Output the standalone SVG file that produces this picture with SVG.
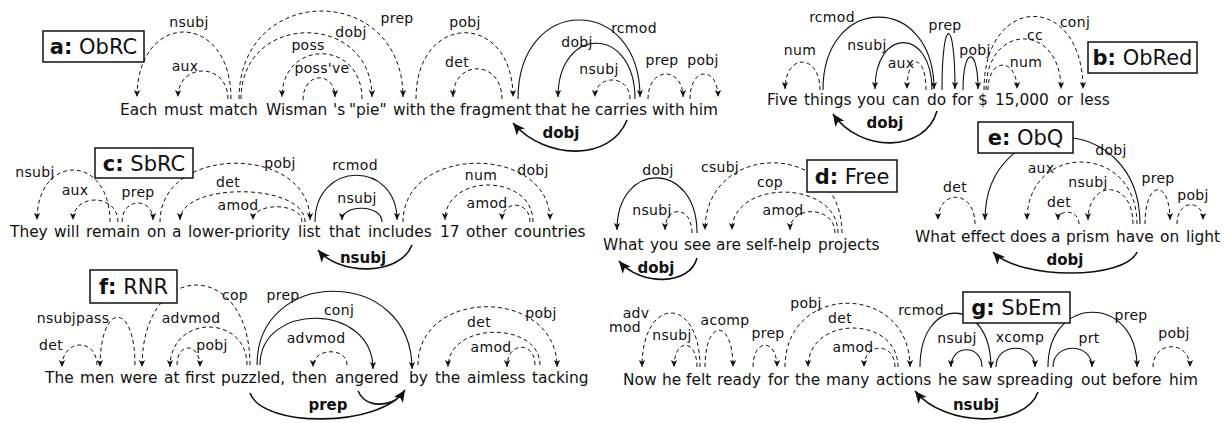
<svg xmlns="http://www.w3.org/2000/svg" width="1229" height="423" viewBox="0 0 1229 423">
<defs>
<marker id="ah" viewBox="0 0 10 10" refX="10" refY="5" markerWidth="8" markerHeight="7" markerUnits="userSpaceOnUse" orient="auto"><path d="M0,0.5 L10,5 L0,9.5 L2.5,5 z" fill="#111" stroke="none"/></marker>
<marker id="ahb" viewBox="0 0 10 10" refX="10" refY="5" markerWidth="14" markerHeight="12" markerUnits="userSpaceOnUse" orient="auto"><path d="M0,0.5 L10,5 L0,9.5 L2.5,5 z" fill="#111" stroke="none"/></marker>
<style>
.w{font-family:"DejaVu Sans",sans-serif;font-size:15.4px;fill:#111}
.l{font-family:"DejaVu Sans",sans-serif;font-size:14px;letter-spacing:0.3px;fill:#111;text-anchor:middle}
.lb{font-family:"DejaVu Sans",sans-serif;font-size:15px;font-weight:bold;fill:#111;text-anchor:middle}
.bx{fill:#fff;stroke:#111;stroke-width:1.5}
.bt{font-family:"DejaVu Sans",sans-serif;font-size:21px;fill:#111;text-anchor:middle}
.d{fill:none;stroke:#111;stroke-width:1;stroke-dasharray:4 3;marker-end:url(#ah)}
.s{fill:none;stroke:#111;stroke-width:1.1;marker-end:url(#ah)}
.k{fill:none;stroke:#111;stroke-width:1.6;marker-end:url(#ahb)}
.k2{fill:none;stroke:#111;stroke-width:1.6}
</style>
</defs>
<rect width="1229" height="423" fill="#fff"/>

<!-- Panel a -->
<g id="a-connectors">
<path class="d" d="M231,99 C231,10 137,10 137,97"/>
<path class="d" d="M228,99 C228,62 178,62 178,97"/>
<path class="d" d="M239,99 C239,-18 403,-18 403,97"/>
<path class="d" d="M241,99 C241,11 372,11 372,97"/>
<path class="d" d="M362,99 C362,39 282,39 282,97"/>
<path class="d" d="M303,100 C303,71 335,71 335,97"/>
<path class="d" d="M416,99 C416,11 513,11 513,97"/>
<path class="d" d="M502,99 C502,59 453,59 453,97"/>
<path class="s" d="M518,99 C518,-6 640,-6 640,97"/>
<path class="s" d="M635,99 C635,25 558,25 558,97"/>
<path class="d" d="M630,99 C630,74 595,74 595,97"/>
<path class="d" d="M648,99 C648,66 683,66 683,97"/>
<path class="d" d="M690,99 C690,66 718,66 718,97"/>
<path class="k" d="M627,120 C611,161 546,161 513,123"/>
<text class="l" x="189" y="27">nsubj</text>
<text class="l" x="185" y="71">aux</text>
<text class="l" x="397" y="23">prep</text>
<text class="l" x="351" y="37">dobj</text>
<text class="l" x="308" y="50">poss</text>
<text class="l" x="322" y="73">poss've</text>
<text class="l" x="465" y="27">pobj</text>
<text class="l" x="457" y="67">det</text>
<text class="l" x="634" y="33">rcmod</text>
<text class="l" x="577" y="47">dobj</text>
<text class="l" x="599" y="74">nsubj</text>
<text class="l" x="662" y="65">prep</text>
<text class="l" x="703" y="65">pobj</text>
<text class="lb" x="561" y="138">dobj</text>
</g>
<g id="a-sentence"><text class="w" y="115"><tspan x="120">Each</tspan><tspan x="164">must</tspan><tspan x="209">match</tspan><tspan x="266">Wisman</tspan><tspan x="333">'s</tspan><tspan x="349">"pie"</tspan><tspan x="393">with</tspan><tspan x="430">the</tspan><tspan x="460">fragment</tspan><tspan x="535">that</tspan><tspan x="571">he</tspan><tspan x="595">carries</tspan><tspan x="652">with</tspan><tspan x="689">him</tspan></text></g>
<g id="a-title"><rect class="bx" x="43" y="31" width="101" height="31"/><text class="bt" x="93.5" y="54"><tspan font-weight="bold">a:</tspan> ObRC</text></g>

<!-- Panel b -->
<g id="b-connectors">
<path class="d" d="M820,90 C820,53 785,53 785,89"/>
<path class="s" d="M823,90 C823,-7 934,-7 934,89"/>
<path class="s" d="M932,90 C932,27 875,27 875,89"/>
<path class="d" d="M926,90 C926,53 907,53 907,89"/>
<path class="s" d="M942,90 C942,15 955,15 955,89"/>
<path class="s" d="M963,90 C963,46 978,46 978,89"/>
<path class="d" d="M988,90 C988,57 1017,57 1017,89"/>
<path class="d" d="M986,90 C986,22 1061,22 1061,89"/>
<path class="d" d="M984,90 C984,-8 1083,-8 1083,89"/>
<path class="k" d="M937,111 C925,153 860,153 833,114"/>
<text class="l" x="800" y="55">num</text>
<text class="l" x="832" y="22">rcmod</text>
<text class="l" x="867" y="50">nsubj</text>
<text class="l" x="901" y="68">aux</text>
<text class="l" x="945" y="30">prep</text>
<text class="l" x="975" y="55">pobj</text>
<text class="l" x="1075" y="27">conj</text>
<text class="l" x="1035" y="40">cc</text>
<text class="l" x="1026" y="67">num</text>
<text class="lb" x="885" y="128">dobj</text>
</g>
<g id="b-sentence"><text class="w" y="105"><tspan x="767">Five</tspan><tspan x="804">things</tspan><tspan x="857">you</tspan><tspan x="892">can</tspan><tspan x="927">do</tspan><tspan x="952">for</tspan><tspan x="978">$</tspan><tspan x="995">15,000</tspan><tspan x="1057">or</tspan><tspan x="1080">less</tspan></text></g>
<g id="b-title"><rect class="bx" x="1088" y="42" width="109" height="31"/><text class="bt" x="1142.5" y="65"><tspan font-weight="bold">b:</tspan> ObRed</text></g>

<!-- Panel c -->
<g id="c-connectors">
<path class="d" d="M110,222 C110,153 37,153 37,220"/>
<path class="d" d="M118,222 C118,193 73,193 73,220"/>
<path class="d" d="M122,222 C122,197 153,197 153,220"/>
<path class="d" d="M160,222 C160,144 310,144 310,220"/>
<path class="d" d="M305,222 C305,182 180,182 180,220"/>
<path class="d" d="M302,222 C302,202 253,202 253,220"/>
<path class="s" d="M315,222 C315,160 397,160 397,220"/>
<path class="s" d="M382,222 C382,204 342,204 342,220"/>
<path class="d" d="M403,222 C403,144 550,144 550,220"/>
<path class="d" d="M533,222 C533,173 445,173 445,220"/>
<path class="d" d="M530,222 C530,200 502,200 502,220"/>
<path class="k" d="M412,245 C400,276 340,276 318,250"/>
<text class="l" x="35" y="177">nsubj</text>
<text class="l" x="75" y="195">aux</text>
<text class="l" x="138" y="197">prep</text>
<text class="l" x="280" y="168">pobj</text>
<text class="l" x="228" y="187">det</text>
<text class="l" x="238" y="210">amod</text>
<text class="l" x="355" y="170">rcmod</text>
<text class="l" x="357" y="203">nsubj</text>
<text class="l" x="533" y="175">dobj</text>
<text class="l" x="481" y="180">num</text>
<text class="l" x="487" y="208">amod</text>
<text class="lb" x="363" y="263">nsubj</text>
</g>
<g id="c-sentence"><text class="w" y="237"><tspan x="10">They</tspan><tspan x="54">will</tspan><tspan x="86">remain</tspan><tspan x="147">on</tspan><tspan x="172">a</tspan><tspan x="188">lower-priority</tspan><tspan x="298">list</tspan><tspan x="329">that</tspan><tspan x="368">includes</tspan><tspan x="440">17</tspan><tspan x="466">other</tspan><tspan x="514">countries</tspan></text></g>
<g id="c-title"><rect class="bx" x="95" y="148" width="98" height="30"/><text class="bt" x="144" y="171"><tspan font-weight="bold">c:</tspan> SbRC</text></g>

<!-- Panel d -->
<g id="d-connectors">
<path class="s" d="M697,233 C697,160 617,160 617,230"/>
<path class="d" d="M692,233 C692,205 665,205 665,230"/>
<path class="d" d="M842,233 C842,140 705,140 705,230"/>
<path class="d" d="M838,233 C838,179 732,179 732,230"/>
<path class="d" d="M835,233 C835,205 790,205 790,230"/>
<path class="k" d="M697,258 C690,286 640,286 619,261"/>
<text class="l" x="658" y="175">dobj</text>
<text class="l" x="652" y="215">nsubj</text>
<text class="l" x="720" y="172">csubj</text>
<text class="l" x="770" y="187">cop</text>
<text class="l" x="783" y="215">amod</text>
<text class="lb" x="656" y="273">dobj</text>
</g>
<g id="d-sentence"><text class="w" y="250"><tspan x="603">What</tspan><tspan x="650">you</tspan><tspan x="684">see</tspan><tspan x="716">are</tspan><tspan x="746">self-help</tspan><tspan x="818">projects</tspan></text></g>
<g id="d-title"><rect class="bx" x="807" y="160" width="90" height="32"/><text class="bt" x="852" y="184"><tspan font-weight="bold">d:</tspan> Free</text></g>

<!-- Panel e -->
<g id="e-connectors">
<path class="d" d="M975,224 C975,189 938,189 938,220"/>
<path class="s" d="M1140,224 C1140,109 985,109 985,220"/>
<path class="d" d="M1137,224 C1137,142 1027,142 1027,220"/>
<path class="d" d="M1133,224 C1133,179 1088,179 1088,220"/>
<path class="d" d="M1079,224 C1079,209 1058,209 1058,220"/>
<path class="d" d="M1145,224 C1145,179 1170,179 1170,220"/>
<path class="d" d="M1177,224 C1177,199 1203,199 1203,220"/>
<path class="k" d="M1137,252 C1125,280 1020,280 993,252"/>
<text class="l" x="955" y="192">det</text>
<text class="l" x="1111" y="155">dobj</text>
<text class="l" x="1041" y="173">aux</text>
<text class="l" x="1088" y="187">nsubj</text>
<text class="l" x="1059" y="207">det</text>
<text class="l" x="1158" y="183">prep</text>
<text class="l" x="1193" y="200">pobj</text>
<text class="lb" x="1065" y="265">dobj</text>
</g>
<g id="e-sentence"><text class="w" y="242"><tspan x="915">What</tspan><tspan x="961">effect</tspan><tspan x="1010">does</tspan><tspan x="1051">a</tspan><tspan x="1066">prism</tspan><tspan x="1116">have</tspan><tspan x="1160">on</tspan><tspan x="1186">light</tspan></text></g>
<g id="e-title"><rect class="bx" x="978" y="122" width="95" height="31"/><text class="bt" x="1025.5" y="145"><tspan font-weight="bold">e:</tspan> ObQ</text></g>

<!-- Panel f -->
<g id="f-connectors">
<path class="d" d="M97,365 C97,338 62,338 62,367"/>
<path class="d" d="M135,365 C135,301 100,301 100,367"/>
<path class="d" d="M250,365 C250,258 142,258 142,367"/>
<path class="d" d="M247,365 C247,314 170,314 170,367"/>
<path class="d" d="M177,365 C177,342 200,342 200,367"/>
<path class="s" d="M257,365 C257,266 412,266 412,369"/>
<path class="s" d="M260,365 C260,302 373,302 373,369"/>
<path class="d" d="M347,365 C347,347 313,347 313,367"/>
<path class="d" d="M418,365 C418,287 557,287 557,367"/>
<path class="d" d="M540,365 C540,321 448,321 448,367"/>
<path class="d" d="M535,365 C535,341 507,341 507,367"/>
<path class="k" d="M250,393 C262,428 380,428 405,390"/>
<path class="k2" d="M358,391 C364,404 378,408 396,400"/>
<text class="l" x="51" y="350">det</text>
<text class="l" x="73" y="323">nsubjpass</text>
<text class="l" x="235" y="300">cop</text>
<text class="l" x="191" y="323">advmod</text>
<text class="l" x="212" y="350">pobj</text>
<text class="l" x="283" y="300">prep</text>
<text class="l" x="339" y="315">conj</text>
<text class="l" x="316" y="343">advmod</text>
<text class="l" x="541" y="318">pobj</text>
<text class="l" x="479" y="327">det</text>
<text class="l" x="491" y="352">amod</text>
<text class="lb" x="328" y="410">prep</text>
</g>
<g id="f-sentence"><text class="w" y="383"><tspan x="45">The</tspan><tspan x="80">men</tspan><tspan x="120">were</tspan><tspan x="164">at</tspan><tspan x="185">first</tspan><tspan x="221">puzzled,</tspan><tspan x="292">then</tspan><tspan x="335">angered</tspan><tspan x="409">by</tspan><tspan x="435">the</tspan><tspan x="467">aimless</tspan><tspan x="532">tacking</tspan></text></g>
<g id="f-title"><rect class="bx" x="90" y="270" width="87" height="33"/><text class="bt" x="133.5" y="294"><tspan font-weight="bold">f:</tspan> RNR</text></g>

<!-- Panel g -->
<g id="g-connectors">
<path class="d" d="M700,367 C700,295 642,295 642,367"/>
<path class="d" d="M697,367 C697,338 674,338 674,367"/>
<path class="d" d="M705,367 C705,318 733,318 733,367"/>
<path class="d" d="M753,367 C753,338 777,338 777,367"/>
<path class="d" d="M785,367 C785,282 910,282 910,367"/>
<path class="d" d="M898,367 C898,315 808,315 808,367"/>
<path class="d" d="M895,367 C895,342 864,342 864,367"/>
<path class="s" d="M920,367 C920,295 991,295 991,368"/>
<path class="s" d="M982,367 C982,344 951,344 951,367"/>
<path class="s" d="M996,367 C996,342 1035,342 1035,367"/>
<path class="s" d="M1048,367 C1048,294 1137,294 1137,367"/>
<path class="s" d="M1053,367 C1053,342 1092,342 1092,367"/>
<path class="d" d="M1153,367 C1153,340 1190,340 1190,367"/>
<path class="k" d="M1038,392 C1025,428 945,428 915,391"/>
<text class="l" x="636" y="318">adv</text>
<text class="l" x="625" y="332">mod</text>
<text class="l" x="672" y="340">nsubj</text>
<text class="l" x="725" y="325">acomp</text>
<text class="l" x="768" y="338">prep</text>
<text class="l" x="806" y="308">pobj</text>
<text class="l" x="840" y="323">det</text>
<text class="l" x="853" y="352">amod</text>
<text class="l" x="921" y="315">rcmod</text>
<text class="l" x="957" y="343">nsubj</text>
<text class="l" x="1020" y="342">xcomp</text>
<text class="l" x="1131" y="320">prep</text>
<text class="l" x="1089" y="343">prt</text>
<text class="l" x="1174" y="338">pobj</text>
<text class="lb" x="976" y="410">nsubj</text>
</g>
<g id="g-sentence"><text class="w" y="385"><tspan x="623">Now</tspan><tspan x="662">he</tspan><tspan x="686">felt</tspan><tspan x="717">ready</tspan><tspan x="768">for</tspan><tspan x="795">the</tspan><tspan x="826">many</tspan><tspan x="876">actions</tspan><tspan x="938">he</tspan><tspan x="962">saw</tspan><tspan x="997">spreading</tspan><tspan x="1081">out</tspan><tspan x="1112">before</tspan><tspan x="1169">him</tspan></text></g>
<g id="g-title"><rect class="bx" x="963" y="292" width="107" height="31"/><text class="bt" x="1016.5" y="315"><tspan font-weight="bold">g:</tspan> SbEm</text></g>
</svg>
